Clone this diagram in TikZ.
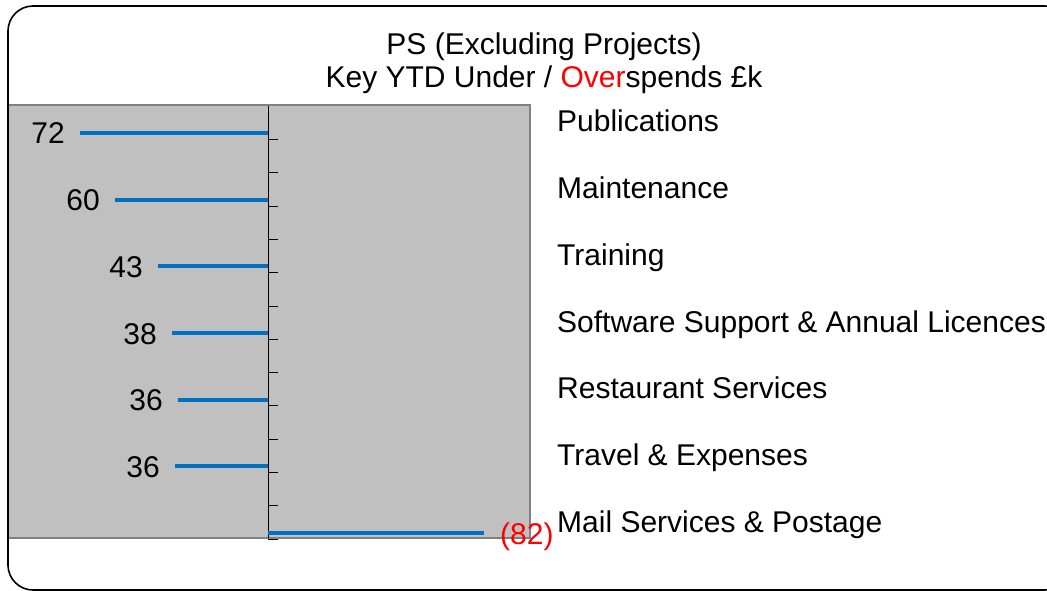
\documentclass[tikz,border=0pt]{standalone}
\usepackage{fontspec}
\setmainfont{Liberation Sans}
\definecolor{plotgray}{HTML}{C0C0C0}
\definecolor{edgegray}{HTML}{808080}
\definecolor{barblue}{HTML}{0070C0}
\definecolor{negred}{HTML}{FF0000}
\tikzset{
  lbl/.style={font=\fontsize{30}{34}\selectfont, inner sep=0pt},
  catlbl/.style={lbl, anchor=base west},
  vallbl/.style={lbl, anchor=base east},
  barline/.style={draw=barblue, line width=4pt},
  tickline/.style={draw=black, line width=0.9pt},
}
\begin{document}
\begin{tikzpicture}[x=1pt,y=-1pt]
\useasboundingbox (0,0) rectangle (1047,591);
% outer frame
\begin{scope}
\clip (0,0) rectangle (1047,591);
\draw[line width=1.6pt, rounded corners=25pt] (8,6) rectangle (1070,590);
\end{scope}
% plot area
\fill[plotgray] (8,105) rectangle (530,538);
\draw[edgegray, line width=1.5pt] (8,105) -- (530,105) -- (530,538) -- (8,538);
\draw[black, line width=1.6pt] (8,30) -- (8,566);
% title
\node[lbl, anchor=base] (t1) at (544,55) {PS (Excluding Projects)};
\node[lbl, anchor=base] (t2) at (544,88) {Key YTD Under / \textcolor{negred}{Over}spends £k};
% axis
\coordinate (axtop) at (268,106);
\coordinate (axbot) at (268,538);
\draw[black, line width=1pt] (axtop) -- (axbot);
\foreach \k in {0,...,12} {
  \draw[tickline] (268,139.3+\k*33.33) -- (278,139.3+\k*33.33);
}
% bars
\foreach \i/\s/\v/\c in {0/80/72/Publications,1/115/60/Maintenance,2/158/43/Training,3/172/38/Software Support \& Annual Licences,4/178/36/Restaurant Services,5/175/36/Travel \& Expenses} {
  \coordinate (b\i s) at (\s,133+\i*66.67);
  \coordinate (b\i e) at (268,133+\i*66.67);
  \draw[barline] (b\i s) -- (b\i e);
  \node[vallbl] (v\i) at (\s-15,144+\i*66.67) {\v};
  \node[catlbl] (c\i) at (557,132+\i*66.67) {\c};
}
\coordinate (b6s) at (268,533);
\coordinate (b6e) at (484,533);
\draw[barline] (b6s) -- (b6e);
\node[lbl, anchor=base west, text=negred] (v6) at (500,544) {(82)};
\node[catlbl] (c6) at (557,532) {Mail Services \& Postage};
\end{tikzpicture}
\end{document}
